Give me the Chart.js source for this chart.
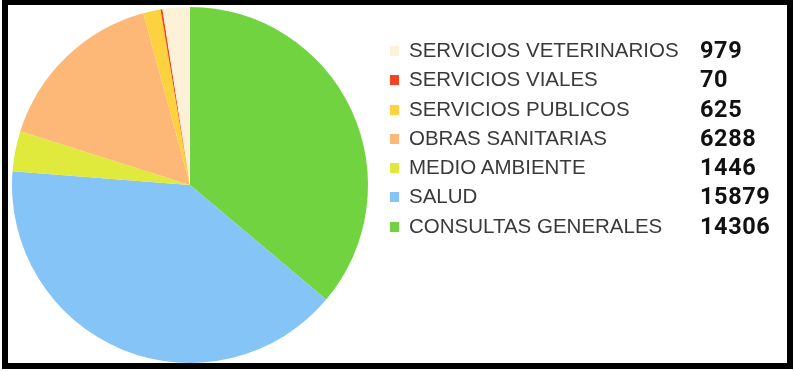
<!DOCTYPE html>
<html>
<head>
<meta charset="utf-8">
<script src="https://cdn.jsdelivr.net/npm/chart.js@4"></script>
<style>
  html, body { margin: 0; padding: 0; background: #fff; }
  body { width: 794px; height: 371px; position: relative; overflow: hidden; }
  #frame {
    position: absolute; left: 2px; top: 0; width: 791px; height: 369px;
    box-sizing: border-box; border: 6px solid #000; border-top-width: 5px;
  }
  #pie { position: absolute; left: 0; top: 0; }
  #legend { position: absolute; left: 0; top: 0; }
  .row { position: absolute; left: 390px; height: 30px; width: 400px; }
  .sw { position: absolute; left: 0; width: 9px; height: 10px; }
  .lbl {
    position: absolute; left: 19px; font: 20.5px "Liberation Sans", Arial, sans-serif;
    color: #3a3a3a; white-space: nowrap; line-height: 30px; top: 0;
  }
  .val {
    position: absolute; left: 310px; font: 700 23.5px Roboto, sans-serif;
    color: #111; letter-spacing: 0.6px; line-height: 30px; top: 0;
  }
</style>
</head>
<body>
<canvas id="pie" width="794" height="371"></canvas>
<div id="legend"></div>
<div id="frame"></div>
<script>
// legend order (top to bottom)
const labels = [
  "SERVICIOS VETERINARIOS",
  "SERVICIOS VIALES",
  "SERVICIOS PUBLICOS",
  "OBRAS SANITARIAS",
  "MEDIO AMBIENTE",
  "SALUD",
  "CONSULTAS GENERALES",
];
const values = [979, 70, 625, 6288, 1446, 15879, 14306];
const colors = ["#fdf2d7", "#f5431f", "#fdd23e", "#fdb877", "#dfea3c", "#84c4f7", "#72d340"];

// legend
const legend = document.getElementById("legend");
labels.forEach((name, i) => {
  const row = document.createElement("div");
  row.className = "row";
  row.style.top = (35 + i * 29.25) + "px";
  row.innerHTML =
    `<div class="sw" style="background:${colors[i]};top:11px"></div>` +
    `<div class="lbl">${name}</div><div class="val">${values[i]}</div>`;
  legend.appendChild(row);
});

// pie drawn clockwise from 12 o'clock, starting with the last legend entry
const pieLabels = labels.slice().reverse();
const pieValues = values.slice().reverse();
const pieColors = colors.slice().reverse();

new Chart(document.getElementById("pie").getContext("2d"), {
  type: "pie",
  data: {
    labels: pieLabels,
    datasets: [{
      data: pieValues,
      backgroundColor: pieColors,
      borderWidth: 0,
    }],
  },
  options: {
    responsive: false,
    animation: false,
    layout: { padding: { left: 12, top: 7, right: 426, bottom: 8 } },
    plugins: { legend: { display: false }, tooltip: { enabled: false } },
  },
});
</script>
</body>
</html>
